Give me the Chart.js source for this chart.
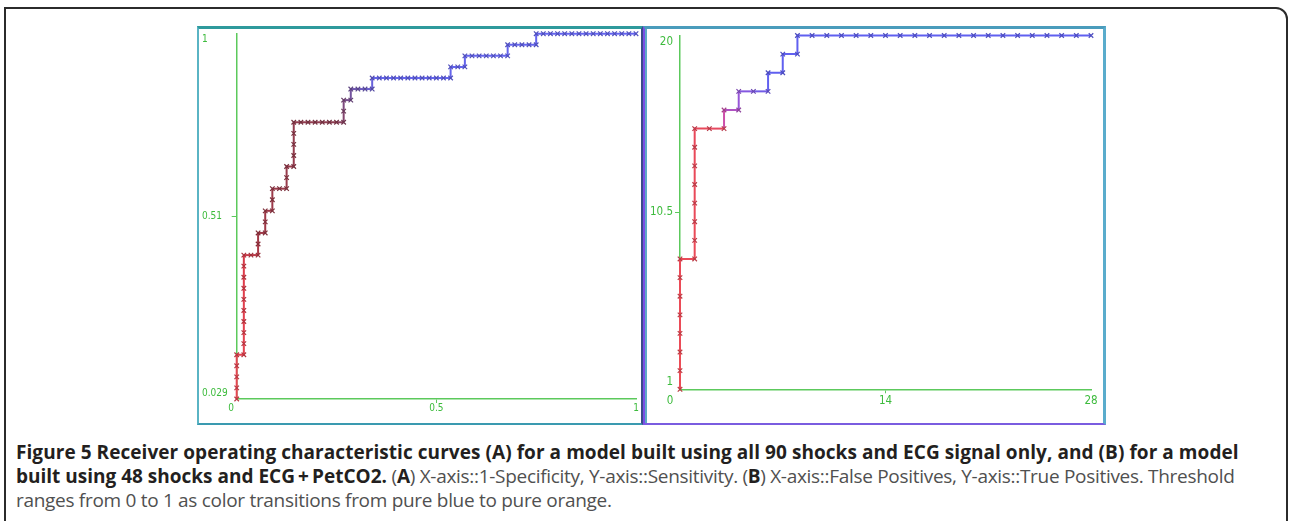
<!DOCTYPE html>
<html>
<head>
<meta charset="utf-8">
<script src="https://cdn.jsdelivr.net/npm/chart.js@4.4.1/dist/chart.umd.min.js"></script>
<style>
  html, body { margin: 0; padding: 0; background: #fff; }
  body { width: 1292px; height: 521px; overflow: hidden; position: relative; }
  #frame { position: absolute; left: 4px; top: 7px; width: 1284px; height: 560px;
           border: 2px solid #2b2b2b; border-top-right-radius: 12px; box-sizing: border-box; }
  .box { position: absolute; top: 26px; height: 399px; box-sizing: border-box; z-index: 2; pointer-events: none; }
  #boxA { left: 197px; width: 446px; border-top: 3px solid #2e9a9c; border-left: 2px solid #5ab4c4;
          border-right: 2px solid #3c4a8c; border-bottom: 2px solid #3a9ab0; }
  #boxB { left: 643px; width: 463px; border-top: 3px solid #4a9cbc; border-left: 2px solid #7a4ee6;
          border-right: 3px solid #5aaccc; border-bottom: 2px solid #7a5ce0; box-shadow: inset 2px 0 0 #5fa8c8; }
  canvas { position: absolute; z-index: 1; }
  #chartA { left: 190px; top: 14px; }
  #chartB { left: 640px; top: 14px; }
  #cap { position: absolute; left: 16px; top: 440px; font-family: "Open Sans", sans-serif; font-size: 19px;
         line-height: 24px; color: #505050; white-space: nowrap; }
  #cap b { color: #231f20; font-weight: 700; }
  #cap .first { letter-spacing: 0.06px; }
  #cap .r { letter-spacing: -0.3px; }
</style>
</head>
<body>
<div id="frame"></div>
<canvas id="chartA" width="460" height="420"></canvas>
<canvas id="chartB" width="470" height="420"></canvas>
<div class="box" id="boxA"></div>
<div class="box" id="boxB"></div>
<div id="cap">
  <div class="first"><b>Figure 5 Receiver operating characteristic curves (A) for a model built using all 90 shocks and ECG signal only, and (B) for a model</b></div>
  <div><b>built using 48 shocks and ECG&#8201;+&#8201;PetCO2.</b><span class="r"> (<b>A</b>) X-axis::1-Specificity, Y-axis::Sensitivity. (<b>B</b>) X-axis::False Positives, Y-axis::True Positives. Threshold</span></div>
  <div class="r">ranges from 0 to 1 as color transitions from pure blue to pure orange.</div>
</div>
<script>
// panel A: 90 shocks, 34 positives / 56 negatives (counts along the curve)
const aNeg = 56, aPos = 34;
const aFP = [0,0,0,0,0, 1,1,1,1,1,1,1,1,1,1, 2, 3,3,3, 4,4,4, 5,5,5, 6, 7,7,7, 8,8,8,8,8,
  9,10,11,12,13,14, 15,15,15, 16,16, 17,18, 19,19, 20,21,22,23,24,25,26,27,28,29, 30,30, 31, 32,32,
  33,34,35,36,37, 38,38, 39,40,41, 42,42, 43,44,45,46,47,48,49,50,51,52,53,54,55,56];
const aTP = [1,2,3,4,5, 5,6,7,8,9,10,11,12,13,14, 14, 14,15,16, 16,17,18, 18,19,20, 20, 20,21,22, 22,23,24,25,26,
  26,26,26,26,26,26, 26,27,28, 28,29, 29,29, 29,30, 30,30,30,30,30,30,30,30,30,30, 30,31, 31, 31,32,
  32,32,32,32,32, 32,33, 33,33,33, 33,34, 34,34,34,34,34,34,34,34,34,34,34,34,34,34];
const aXTicks = ['0    ', '0.5', '1'];
const aYTicks = ['0.029', '0.51', '1'];

// panel B: 48 shocks, counts of false / true positives
const bFP = [0,0,0,0,0,0,0,0, 1,1,1,1,1,1,1,1, 2, 3,3, 4,4, 5, 6,6, 7,7, 8,8,
  9,10,11,12,13,14,15,16,17,18,19,20,21,22,23,24,25,26,27,28];
const bTP = [1,2,3,4,5,6,7,8, 8,9,10,11,12,13,14,15, 15, 15,16, 16,17, 17, 17,18, 18,19, 19,20,
  20,20,20,20,20,20,20,20,20,20,20,20,20,20,20,20,20,20,20,20];
const bXTicks = ['0      ', '14', '28'];
const bYTicks = ['1', '10.5', '20'];

const green = '#3dbb3d';
const axisGreen = '#5cc95c';

// colour along the curve (start = low threshold side)
const stopsA = [[0, [232,70,84]], [0.15, [222,60,74]], [0.2, [160,56,70]], [0.44, [142,62,82]],
  [0.5, [112,84,166]], [0.55, [100,100,234]], [1, [100,100,240]]];
const stopsB = [[0, [236,76,86]], [0.36, [232,72,90]], [0.383, [204,80,170]], [0.42, [156,84,214]],
  [0.47, [112,92,232]], [0.49, [96,96,240]], [1, [96,96,240]]];

function colorAt(stops, f, k) {
  let i = 0;
  while (i < stops.length - 2 && f > stops[i + 1][0]) i++;
  const [f0, c0] = stops[i], [f1, c1] = stops[i + 1];
  const t = Math.min(1, Math.max(0, (f - f0) / (f1 - f0)));
  const c = c0.map((v, j) => Math.round((v + (c1[j] - v) * t) * k));
  return `rgb(${c[0]},${c[1]},${c[2]})`;
}

function makeChart(id, xs, ys, xMin, xMax, yMin, yMax, xTicks, yTicks, stops, cfg) {
  const n = xs.length;
  const lineCol = i => colorAt(stops, i / (n - 1), 1);
  const ptCol = i => colorAt(stops, i / (n - 1), 0.8);
  const three = (lo, hi) => [{ value: lo }, { value: (lo + hi) / 2 }, { value: hi }];
  const tickCol = c => c.index === 1 ? axisGreen : 'rgba(0,0,0,0)';
  const font = { family: '"DejaVu Sans Condensed", "DejaVu Sans", sans-serif', size: cfg.fontSize };

  return new Chart(document.getElementById(id), {
    type: 'line',
    data: {
      datasets: [{
        data: xs.map((x, i) => ({ x: x, y: ys[i] })),
        borderWidth: 2,
        borderColor: lineCol(0),
        segment: { borderColor: c => lineCol(c.p1DataIndex) },
        pointStyle: 'crossRot',
        pointRadius: 3.2,
        pointBorderWidth: 1.2,
        pointBorderColor: c => ptCol(c.dataIndex),
        pointBackgroundColor: c => ptCol(c.dataIndex),
        tension: 0,
        fill: false,
        clip: false
      }]
    },
    options: {
      responsive: false,
      animation: false,
      plugins: { legend: { display: false }, tooltip: { enabled: false } },
      layout: { padding: cfg.padding },
      scales: {
        x: {
          type: 'linear', min: xMin, max: xMax,
          afterBuildTicks: s => { s.ticks = three(xMin, xMax); },
          afterFit: s => { s.height = cfg.xHeight; },
          ticks: { callback: (v, i) => xTicks[i], color: green, font: font, padding: cfg.xPad,
                   maxRotation: 0, autoSkip: false },
          grid: { drawOnChartArea: false, tickLength: 4, color: tickCol },
          border: { display: true, color: axisGreen, width: 1.5 }
        },
        y: {
          type: 'linear', min: yMin, max: yMax,
          afterBuildTicks: s => { s.ticks = three(yMin, yMax); },
          afterFit: s => { s.width = cfg.yWidth; },
          ticks: {
            callback: (v, i) => i === 0 ? [yTicks[0], ''] : (i === 2 ? ['', yTicks[2]] : yTicks[i]),
            color: green, font: font, padding: cfg.yPad, crossAlign: cfg.crossAlign, autoSkip: false
          },
          grid: { drawOnChartArea: false, tickLength: 5, color: tickCol },
          border: { display: true, color: axisGreen, width: 1.5 }
        }
      }
    }
  });
}

makeChart('chartA', aFP.map(v => v / aNeg), aTP.map(v => v / aPos), 0, 1, 1 / aPos, 1,
  aXTicks, aYTicks, stopsA,
  { fontSize: 10, padding: { left: 12, top: 19.7, right: 14, bottom: 0 }, yWidth: 34.7, xHeight: 35,
    xPad: -1, yPad: 1, crossAlign: 'far' });

makeChart('chartB', bFP, bTP, 0, 28, 1, 20,
  bXTicks, bYTicks, stopsB,
  { fontSize: 11.5, padding: { left: 0, top: 21.5, right: 19, bottom: 0 }, yWidth: 40, xHeight: 44.7,
    xPad: 1, yPad: 2, crossAlign: 'near' });
</script>
</body>
</html>
